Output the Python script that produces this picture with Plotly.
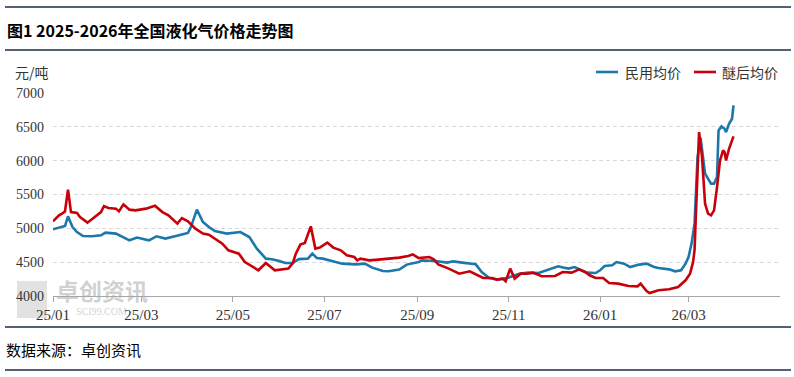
import plotly.graph_objects as go

# ---------------- data ----------------
civil_dates = [
    "2025-01-01", "2025-01-07", "2025-01-09", "2025-01-11", "2025-01-14", "2025-01-17", "2025-01-21",
    "2025-01-27", "2025-02-02", "2025-02-05", "2025-02-12", "2025-02-21", "2025-02-26", "2025-03-06",
    "2025-03-11", "2025-03-17", "2025-03-23", "2025-03-26", "2025-04-01", "2025-04-03", "2025-04-07",
    "2025-04-11", "2025-04-15", "2025-04-19", "2025-04-27", "2025-05-06", "2025-05-12", "2025-05-17",
    "2025-05-23", "2025-05-27", "2025-06-01", "2025-06-05", "2025-06-10", "2025-06-14", "2025-06-20",
    "2025-06-23", "2025-06-26", "2025-06-30", "2025-07-06", "2025-07-13", "2025-07-22", "2025-07-28",
    "2025-08-02", "2025-08-09", "2025-08-13", "2025-08-20", "2025-08-25", "2025-09-02", "2025-09-04",
    "2025-09-13", "2025-09-21", "2025-09-25", "2025-10-01", "2025-10-10", "2025-10-14", "2025-10-19",
    "2025-10-25", "2025-11-01", "2025-11-08", "2025-11-14", "2025-11-21", "2025-11-28", "2025-12-04",
    "2025-12-08", "2025-12-11", "2025-12-15", "2025-12-19", "2025-12-23", "2025-12-29", "2026-01-01",
    "2026-01-04", "2026-01-09", "2026-01-12", "2026-01-17", "2026-01-21", "2026-01-27", "2026-02-01",
    "2026-02-06", "2026-02-09", "2026-02-16", "2026-02-20", "2026-02-24", "2026-02-27", "2026-03-01",
    "2026-03-03", "2026-03-05", "2026-03-07", "2026-03-09", "2026-03-12", "2026-03-14", "2026-03-16",
    "2026-03-18", "2026-03-20", "2026-03-21", "2026-03-23", "2026-03-25", "2026-03-26", "2026-03-28",
    "2026-03-30", "2026-03-31",
]
civil_values = [
    4985, 5019, 5034, 5177, 5019, 4945, 4886,
    4882, 4897, 4936, 4922, 4823, 4863, 4823,
    4882, 4848, 4886, 4897, 4931, 5019, 5276,
    5093, 5019, 4960, 4922, 4945, 4871, 4700,
    4552, 4542, 4517, 4487, 4487, 4545, 4552,
    4626, 4561, 4552, 4517, 4478, 4468, 4478,
    4419, 4369, 4365, 4390, 4464, 4502, 4527,
    4517, 4493, 4512, 4493, 4468, 4355, 4266,
    4242, 4272, 4330, 4345, 4340, 4390, 4439,
    4419, 4405, 4428, 4390, 4345, 4340, 4380,
    4443, 4453, 4502, 4478, 4428, 4464, 4478,
    4428, 4414, 4394, 4365, 4380, 4478, 4576,
    4774, 5069, 6053, 6340, 5808, 5734, 5660,
    5660, 5758, 6447, 6506, 6472, 6422, 6546,
    6620, 6817,
]

ether_dates = [
    "2025-01-01", "2025-01-03", "2025-01-05", "2025-01-07", "2025-01-09", "2025-01-11", "2025-01-13",
    "2025-01-17", "2025-01-19", "2025-01-24", "2025-02-02", "2025-02-04", "2025-02-07", "2025-02-12",
    "2025-02-14", "2025-02-17", "2025-02-21", "2025-02-25", "2025-03-04", "2025-03-10", "2025-03-15",
    "2025-03-19", "2025-03-25", "2025-03-28", "2025-04-01", "2025-04-06", "2025-04-11", "2025-04-15",
    "2025-04-19", "2025-04-24", "2025-04-28", "2025-05-05", "2025-05-09", "2025-05-15", "2025-05-18",
    "2025-05-23", "2025-05-26", "2025-05-29", "2025-06-07", "2025-06-10", "2025-06-12", "2025-06-15",
    "2025-06-18", "2025-06-22", "2025-06-25", "2025-06-28", "2025-07-03", "2025-07-07", "2025-07-12",
    "2025-07-16", "2025-07-21", "2025-07-23", "2025-07-25", "2025-07-31", "2025-08-06", "2025-08-13",
    "2025-08-20", "2025-08-26", "2025-08-29", "2025-09-02", "2025-09-04", "2025-09-09", "2025-09-12",
    "2025-09-15", "2025-09-22", "2025-09-29", "2025-10-06", "2025-10-11", "2025-10-15", "2025-10-21",
    "2025-10-24", "2025-10-28", "2025-10-30", "2025-11-02", "2025-11-05", "2025-11-09", "2025-11-13",
    "2025-11-17", "2025-11-21", "2025-11-23", "2025-12-02", "2025-12-07", "2025-12-13", "2025-12-18",
    "2025-12-22", "2025-12-25", "2025-12-29", "2026-01-03", "2026-01-07", "2026-01-13", "2026-01-20",
    "2026-01-26", "2026-01-28", "2026-02-01", "2026-02-03", "2026-02-09", "2026-02-16", "2026-02-22",
    "2026-02-27", "2026-03-02", "2026-03-04", "2026-03-05", "2026-03-08", "2026-03-10", "2026-03-12",
    "2026-03-14", "2026-03-16", "2026-03-18", "2026-03-20", "2026-03-22", "2026-03-24", "2026-03-25",
    "2026-03-26", "2026-03-28", "2026-03-30", "2026-03-31",
]
ether_values = [
    5103, 5152, 5192, 5217, 5250, 5572, 5240,
    5226, 5167, 5084, 5240, 5329, 5300, 5291,
    5251, 5354, 5276, 5266, 5291, 5335, 5240,
    5192, 5069, 5152, 5103, 4995, 4922, 4907,
    4848, 4774, 4675, 4626, 4502, 4428, 4380,
    4487, 4439, 4380, 4405, 4487, 4626, 4759,
    4783, 5029, 4700, 4715, 4789, 4715, 4675,
    4601, 4576, 4527, 4552, 4527, 4537, 4552,
    4567, 4591, 4616, 4561, 4567, 4576, 4542,
    4468, 4405, 4330, 4365, 4306, 4266, 4266,
    4242, 4257, 4217, 4405, 4257, 4330, 4330,
    4345, 4306, 4291, 4296, 4355, 4345, 4394,
    4355, 4306, 4266, 4266, 4192, 4183, 4148,
    4143, 4183, 4074, 4044, 4084, 4099, 4133,
    4232, 4330, 4500, 4680, 6422, 6053, 5365,
    5217, 5192, 5266, 5610, 6004, 6152, 6127,
    6004, 6176, 6300, 6359,
]

series_names = ["民用均价", "醚后均价"]
y_ticks = [4000, 4500, 5000, 5500, 6000, 6500, 7000]
x_ticks = ["2025-01-01", "2025-03-01", "2025-05-01", "2025-07-01", "2025-09-01",
           "2025-11-01", "2026-01-01", "2026-03-01"]
x_tick_labels = ["25/01", "25/03", "25/05", "25/07", "25/09", "25/11", "26/01", "26/03"]

title_text = "图1 2025-2026年全国液化气价格走势图"
unit_text = "元/吨"
source_text = "数据来源：卓创资讯"

# ---------------- styling ----------------
W, H = 794, 377
L, R, T, B = 53, 780, 93, 296   # plot area in pixels
BLUE = "#1c78ab"
RED = "#c8000a"
NAVY = "#1d2b4a"
CJK = "Noto Sans CJK SC"


def px(xp):
    return (xp - L) / (R - L)


def py(yp):
    return (B - yp) / (B - T)


fig = go.Figure()
fig.add_trace(go.Scatter(x=civil_dates, y=civil_values, mode="lines", name=series_names[0],
                         line=dict(color=BLUE, width=2.6)))
fig.add_trace(go.Scatter(x=ether_dates, y=ether_values, mode="lines", name=series_names[1],
                         line=dict(color=RED, width=2.6)))

shapes = []
# horizontal rule lines
for yp in (7, 50, 327, 370):
    shapes.append(dict(type="line", xref="paper", yref="paper", x0=px(5), x1=px(791),
                       y0=py(yp), y1=py(yp), line=dict(color=NAVY, width=1.6)))
# watermark logo block
shapes.append(dict(type="rect", xref="paper", yref="paper", x0=px(17), x1=px(47),
                   y0=py(318), y1=py(281), fillcolor="rgba(190,190,190,0.45)",
                   line=dict(width=0), layer="below"))
# manual legend lines
shapes.append(dict(type="line", xref="paper", yref="paper", x0=px(596), x1=px(618),
                   y0=py(72), y1=py(72), line=dict(color=BLUE, width=2.6)))
shapes.append(dict(type="line", xref="paper", yref="paper", x0=px(694), x1=px(716),
                   y0=py(72), y1=py(72), line=dict(color=RED, width=2.6)))

annotations = [
    dict(text=f"<b>{title_text}</b>", xref="paper", yref="paper", x=px(5), y=py(30),
         xanchor="left", yanchor="middle", showarrow=False,
         font=dict(family=CJK, size=16, color="#000000")),
    dict(text=unit_text, xref="paper", yref="paper", x=px(13), y=py(72),
         xanchor="left", yanchor="middle", showarrow=False,
         font=dict(family=CJK, size=14, color="#333333")),
    dict(text=series_names[0], xref="paper", yref="paper", x=px(623), y=py(72),
         xanchor="left", yanchor="middle", showarrow=False,
         font=dict(family=CJK, size=14, color="#333333")),
    dict(text=series_names[1], xref="paper", yref="paper", x=px(720), y=py(72),
         xanchor="left", yanchor="middle", showarrow=False,
         font=dict(family=CJK, size=14, color="#333333")),
    dict(text=source_text, xref="paper", yref="paper", x=px(4), y=py(349),
         xanchor="left", yanchor="middle", showarrow=False,
         font=dict(family=CJK, size=15, color="#000000")),
    dict(text="<b>卓创资讯</b>", xref="paper", yref="paper", x=px(54), y=py(290),
         xanchor="left", yanchor="middle", showarrow=False,
         font=dict(family=CJK, size=23, color="rgba(170,170,170,0.55)")),
    dict(text="SCI99.COM", xref="paper", yref="paper", x=px(74), y=py(311),
         xanchor="left", yanchor="middle", showarrow=False,
         font=dict(family="Liberation Serif", size=10, color="rgba(170,170,170,0.55)")),
]

fig.update_layout(
    width=W, height=H,
    margin=dict(l=L, r=W - R, t=T, b=H - B, pad=0),
    paper_bgcolor="white", plot_bgcolor="white",
    showlegend=False,
    shapes=shapes,
    annotations=annotations,
    xaxis=dict(
        type="date", range=["2025-01-01", "2026-05-01"],
        tickvals=x_ticks, ticktext=x_tick_labels,
        showgrid=False, zeroline=False,
        showline=True, linecolor="#a6a6a6", linewidth=1,
        ticks="outside", ticklen=5, tickcolor="#a6a6a6", tickwidth=1,
        tickfont=dict(family="Liberation Serif", size=15, color="#333333"),
    ),
    yaxis=dict(
        range=[4000, 7000], tickvals=y_ticks,
        showgrid=True, gridcolor="#d9d9d9", gridwidth=1, griddash="4px,3px",
        zeroline=False, showline=False, ticks="",
        ticklabelstandoff=8,
        tickfont=dict(family="Liberation Serif", size=14, color="#333333"),
    ),
)

fig.write_html("out.html", config={"displayModeBar": False},
               post_script="document.body.style.margin='0px';")
